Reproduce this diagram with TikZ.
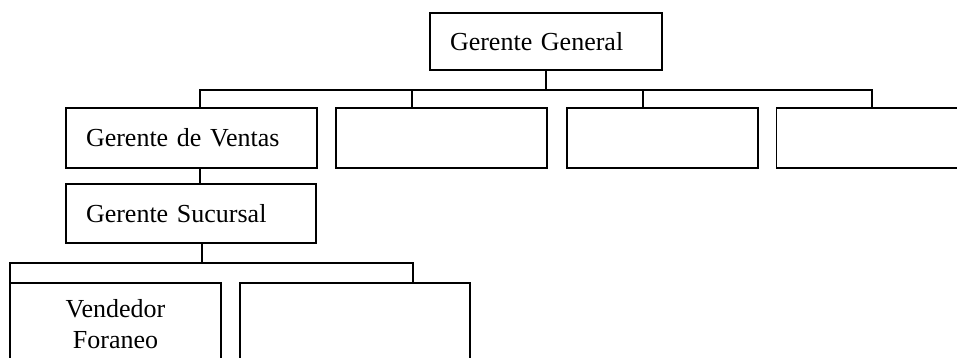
\documentclass[tikz,border=0pt]{standalone}
\usepackage{fontspec}
\setmainfont{Liberation Serif}
\usetikzlibrary{positioning}

\begin{document}
\begin{tikzpicture}[x=1pt,y=-1pt,node distance=17pt,
    box/.style={draw,line width=1.8pt,inner xsep=20pt,inner ysep=0pt,align=left,
      font=\fontsize{26}{31}\selectfont},
    empty/.style={draw,line width=1.8pt,minimum height=60pt},
    link/.style={line width=1.8pt}]
                \useasboundingbox (0,0) rectangle (957,357);
                \clip (0,0) rectangle (957,357);
                % jefes
                \node[box,text width=192pt,minimum height=57pt] (gg) at (546,41.5) {Gerente General};
                \node[box,text width=211pt,minimum height=60pt] (ventas) at (191.5,138) {Gerente de Ventas};
                \node[empty,minimum width=211pt,right=of ventas] (a2) {};
                \node[empty,minimum width=191pt,right=18pt of a2] (a3) {};
                \node[empty,minimum width=191pt,right=of a3] (a4) {};
                \node[box,text width=210pt,minimum height=59pt] (sucursal) at (191,213.5) {Gerente Sucursal};
                % vendedores
                \node[draw,line width=1.8pt,minimum width=211pt,minimum height=82pt,align=center,
                  font=\fontsize{26}{31}\selectfont] (foraneo) at (115.5,324) {Vendedor\\Foraneo};
                \node[empty,minimum width=230pt,minimum height=82pt] (b2) at (355,324) {};
                % lineas
                \coordinate (barL) at (200,90);
                \coordinate (barR) at (872,90);
                \coordinate (d2) at (412,90);
                \coordinate (d3) at (643,90);
                \draw[link] (gg.south) -- (gg.south |- barL);
                \draw[link] (barL |- ventas.north) -- (barL) -- (barR) -- (barR |- a4.north);
                \draw[link] (d2) -- (d2 |- a2.north);
                \draw[link] (d3) -- (d3 |- a3.north);
                \draw[link] (barL |- ventas.south) -- (barL |- sucursal.north);
                \coordinate (subL) at (10,263);
                \coordinate (subR) at (413,263);
                \draw[link] (202,0 |- sucursal.south) -- (202,263);
                \draw[link] (subL |- foraneo.north) -- (subL) -- (subR) -- (subR |- b2.north);
             \end{tikzpicture}
\end{document}
